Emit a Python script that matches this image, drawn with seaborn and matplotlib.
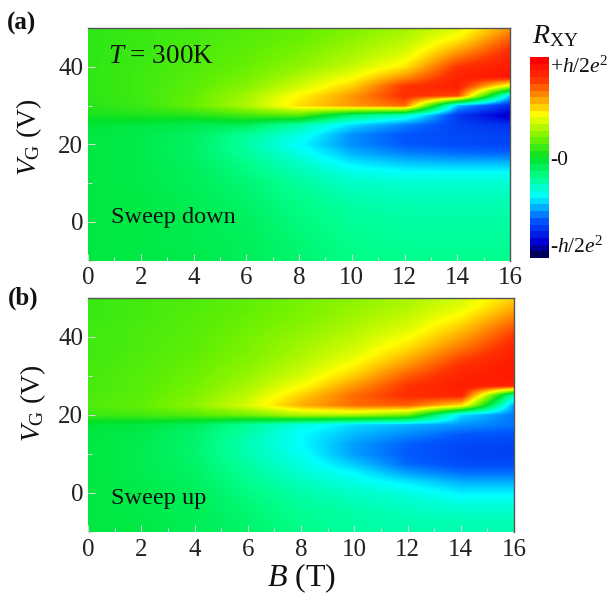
import numpy as np
import matplotlib
matplotlib.use("Agg")
import matplotlib.pyplot as plt
import seaborn as sns
from matplotlib.colors import LinearSegmentedColormap, Normalize
from matplotlib.cm import ScalarMappable
from matplotlib.ticker import MultipleLocator

# ---------------- data ----------------
B_values = [0, 2, 4, 6, 8, 10, 12, 14, 16]                      # T
VG_values = [50, 47.5, 45, 42.5, 40, 37.5, 35, 32.5, 30, 27.5, 25, 22.5, 20,
             17.5, 15, 12.5, 10, 7.5, 5, 2.5, 0, -2.5, -5, -7.5, -10]   # V
# R_XY in units of h/2e^2, rows = VG (top->bottom), cols = B
rxy_sweep_down = [
    [0.08, 0.10, 0.12, 0.15, 0.17, 0.22, 0.28, 0.38, 0.62],
    [0.08, 0.10, 0.12, 0.15, 0.18, 0.24, 0.31, 0.45, 0.72],
    [0.08, 0.10, 0.13, 0.16, 0.20, 0.27, 0.35, 0.56, 0.80],
    [0.08, 0.10, 0.13, 0.17, 0.22, 0.30, 0.40, 0.68, 0.86],
    [0.08, 0.11, 0.14, 0.18, 0.25, 0.34, 0.48, 0.80, 0.90],
    [0.08, 0.11, 0.15, 0.20, 0.30, 0.42, 0.62, 0.86, 0.92],
    [0.08, 0.11, 0.16, 0.23, 0.36, 0.52, 0.80, 0.88, 0.35],
    [0.08, 0.11, 0.17, 0.28, 0.45, 0.62, 0.82, 0.75, -0.50],
    [0.07, 0.10, 0.18, 0.30, 0.50, 0.62, 0.70, -0.50, -0.76],
    [0.04, 0.05, 0.06, 0.12, 0.15, -0.15, -0.30, -0.72, -0.90],
    [-0.03, -0.05, -0.08, -0.10, -0.25, -0.45, -0.58, -0.70, -0.74],
    [-0.05, -0.07, -0.11, -0.22, -0.35, -0.56, -0.65, -0.68, -0.70],
    [-0.05, -0.07, -0.12, -0.24, -0.40, -0.56, -0.64, -0.67, -0.69],
    [-0.05, -0.07, -0.12, -0.22, -0.35, -0.50, -0.57, -0.60, -0.61],
    [-0.05, -0.07, -0.11, -0.19, -0.30, -0.42, -0.47, -0.49, -0.49],
    [-0.05, -0.07, -0.10, -0.17, -0.26, -0.35, -0.38, -0.38, -0.38],
    [-0.05, -0.07, -0.10, -0.15, -0.23, -0.30, -0.32, -0.32, -0.32],
    [-0.05, -0.06, -0.09, -0.14, -0.21, -0.27, -0.29, -0.29, -0.29],
    [-0.05, -0.06, -0.09, -0.13, -0.19, -0.25, -0.27, -0.27, -0.27],
    [-0.05, -0.06, -0.08, -0.12, -0.18, -0.23, -0.25, -0.25, -0.25],
    [-0.05, -0.06, -0.08, -0.11, -0.17, -0.22, -0.24, -0.24, -0.24],
    [-0.05, -0.06, -0.08, -0.11, -0.16, -0.21, -0.23, -0.23, -0.23],
    [-0.05, -0.06, -0.08, -0.10, -0.15, -0.20, -0.22, -0.22, -0.22],
    [-0.05, -0.06, -0.07, -0.10, -0.15, -0.19, -0.21, -0.21, -0.21],
    [-0.05, -0.06, -0.07, -0.10, -0.14, -0.19, -0.20, -0.20, -0.20],
]
rxy_sweep_up = [
    [0.10, 0.12, 0.14, 0.17, 0.20, 0.24, 0.29, 0.36, 0.52],
    [0.10, 0.12, 0.14, 0.17, 0.21, 0.26, 0.31, 0.40, 0.58],
    [0.10, 0.12, 0.15, 0.18, 0.22, 0.28, 0.34, 0.46, 0.66],
    [0.11, 0.13, 0.15, 0.19, 0.24, 0.30, 0.38, 0.53, 0.74],
    [0.11, 0.13, 0.16, 0.20, 0.26, 0.33, 0.43, 0.60, 0.80],
    [0.11, 0.13, 0.16, 0.21, 0.28, 0.36, 0.49, 0.67, 0.85],
    [0.11, 0.14, 0.17, 0.22, 0.30, 0.40, 0.56, 0.75, 0.88],
    [0.12, 0.14, 0.18, 0.24, 0.33, 0.46, 0.64, 0.82, 0.90],
    [0.12, 0.15, 0.19, 0.26, 0.37, 0.53, 0.73, 0.86, 0.90],
    [0.12, 0.15, 0.20, 0.29, 0.43, 0.62, 0.80, 0.88, 0.86],
    [0.13, 0.16, 0.22, 0.33, 0.52, 0.70, 0.82, 0.86, -0.30],
    [0.14, 0.17, 0.24, 0.38, 0.58, 0.70, 0.72, 0.50, -0.55],
    [0.10, 0.12, 0.15, 0.20, 0.30, 0.30, 0.20, -0.45, -0.60],
    [-0.03, -0.05, -0.10, -0.22, -0.35, -0.45, -0.50, -0.55, -0.60],
    [-0.05, -0.07, -0.13, -0.25, -0.40, -0.50, -0.57, -0.64, -0.66],
    [-0.05, -0.08, -0.14, -0.27, -0.40, -0.54, -0.63, -0.68, -0.69],
    [-0.05, -0.08, -0.14, -0.26, -0.38, -0.54, -0.64, -0.69, -0.70],
    [-0.05, -0.08, -0.13, -0.24, -0.35, -0.48, -0.62, -0.67, -0.67],
    [-0.05, -0.08, -0.12, -0.22, -0.32, -0.40, -0.53, -0.60, -0.60],
    [-0.05, -0.07, -0.11, -0.20, -0.28, -0.35, -0.42, -0.50, -0.50],
    [-0.05, -0.07, -0.10, -0.18, -0.25, -0.30, -0.35, -0.42, -0.42],
    [-0.05, -0.07, -0.10, -0.16, -0.23, -0.27, -0.31, -0.35, -0.35],
    [-0.05, -0.07, -0.09, -0.15, -0.21, -0.25, -0.28, -0.30, -0.30],
    [-0.05, -0.06, -0.09, -0.14, -0.20, -0.24, -0.26, -0.27, -0.27],
    [-0.05, -0.06, -0.09, -0.13, -0.19, -0.23, -0.25, -0.26, -0.26],
]
panel_labels = ["(a)", "(b)"]
panel_notes = ["Sweep down", "Sweep up"]
x_ticks = [0, 2, 4, 6, 8, 10, 12, 14, 16]
y_ticks = [0, 20, 40]
cbar_ticks = [-1, 0, 1]
cbar_ticklabels = [r"-$h$/2$e^2$", "-0", r"+$h$/2$e^2$"]

# ---------------- style ----------------
sns.set_theme(style="white")
plt.rcParams["font.family"] = ["Liberation Serif", "DejaVu Serif"]
plt.rcParams["mathtext.fontset"] = "custom"
plt.rcParams["mathtext.rm"] = "Liberation Serif"
plt.rcParams["mathtext.it"] = "Liberation Serif:italic"
plt.rcParams["mathtext.bf"] = "Liberation Serif:bold"

cmap = LinearSegmentedColormap.from_list("origin_rainbow", [
    (0.00, (0.0, 0.0, 0.35)),
    (0.07, (0.0, 0.0, 0.85)),
    (0.18, (0.0, 0.35, 1.0)),
    (0.30, (0.0, 1.0, 1.0)),
    (0.40, (0.0, 1.0, 0.55)),
    (0.50, (0.0, 0.88, 0.15)),
    (0.60, (0.45, 0.95, 0.0)),
    (0.72, (1.0, 1.0, 0.0)),
    (0.82, (1.0, 0.55, 0.0)),
    (0.90, (1.0, 0.2, 0.0)),
    (1.00, (1.0, 0.0, 0.0)),
], N=512)
norm = Normalize(vmin=-1, vmax=1)

fig = plt.figure(figsize=(6.15, 5.96), dpi=100)
ax_a = fig.add_axes([0.1431, 0.5629, 0.6862, 0.3901])
ax_b = fig.add_axes([0.1431, 0.1074, 0.6927, 0.3926])

dB = B_values[1] - B_values[0]
dV = VG_values[0] - VG_values[1]
extent = [B_values[0] - dB / 2, B_values[-1] + dB / 2,
          VG_values[-1] - dV / 2, VG_values[0] + dV / 2]

note_y = [0.187, 0.145]
for ax, data, note, ny in zip([ax_a, ax_b], [rxy_sweep_down, rxy_sweep_up],
                              panel_notes, note_y):
    ax.imshow(np.array(data), cmap=cmap, norm=norm, extent=extent, origin="upper",
              aspect="auto", interpolation="bilinear", interpolation_stage="data")
    ax.set_xlim(0, 16)
    ax.set_ylim(-10, 50)
    ax.set_xticks(x_ticks)
    ax.set_yticks(y_ticks)
    ax.xaxis.set_minor_locator(MultipleLocator(1))
    ax.yaxis.set_minor_locator(MultipleLocator(10))
    ax.tick_params(which="both", direction="in", colors="#d8d8d8",
                   labelcolor="#222222", labelsize=18, bottom=True, left=True)
    ax.tick_params(axis="x", which="major", length=5, width=0.8, pad=5)
    ax.tick_params(axis="y", which="major", length=5, width=0.8, pad=3.5)
    ax.tick_params(which="minor", length=3, width=0.8)
    for s in ["left", "bottom"]:
        ax.spines[s].set_visible(False)
    for s in ["top", "right"]:
        ax.spines[s].set_visible(True)
        ax.spines[s].set_color("#555555")
        ax.spines[s].set_linewidth(1.0)
    ax.set_ylabel(r"$V_{\mathrm{G}}$ (V)", fontsize=20, color="#111111")
    ax.text(0.055, ny, note, transform=ax.transAxes, fontsize=17.5,
            color="#111111", ha="left", va="center")
    ax.grid(False)

ax_a.yaxis.set_label_coords(-0.105, 0.53)
ax_b.yaxis.set_label_coords(-0.095, 0.55)

ax_a.text(0.048, 0.877, r"$T$ = 300K", transform=ax_a.transAxes, fontsize=19.5,
          color="#111111", ha="left", va="center")
ax_b.set_xlabel(r"$B$ (T)", fontsize=23, color="#111111")
ax_b.xaxis.set_label_coords(0.5, -0.125)

fig.text(0.011, 0.960, panel_labels[0], fontsize=18, fontweight="bold",
         ha="left", va="center", color="#111111")
fig.text(0.013, 0.500, panel_labels[1], fontsize=18, fontweight="bold",
         ha="left", va="center", color="#111111")

# colorbar
cax = fig.add_axes([0.8618, 0.5671, 0.0309, 0.3372])
cmap_steps = cmap.resampled(30)
cb = fig.colorbar(ScalarMappable(norm=norm, cmap=cmap_steps), cax=cax)
cb.outline.set_visible(False)
cb.set_ticks(cbar_ticks)
cb.set_ticklabels(cbar_ticklabels)
cax.tick_params(length=0, pad=1, labelsize=15.5, labelcolor="#111111")
tl = cax.get_yticklabels()
tl[0].set_va("bottom")
tl[2].set_va("top")
fig.text(0.865, 0.940, r"$R_{\mathrm{XY}}$", fontsize=20, ha="left",
         va="center", color="#111111")

fig.savefig("out.png", dpi=100)
